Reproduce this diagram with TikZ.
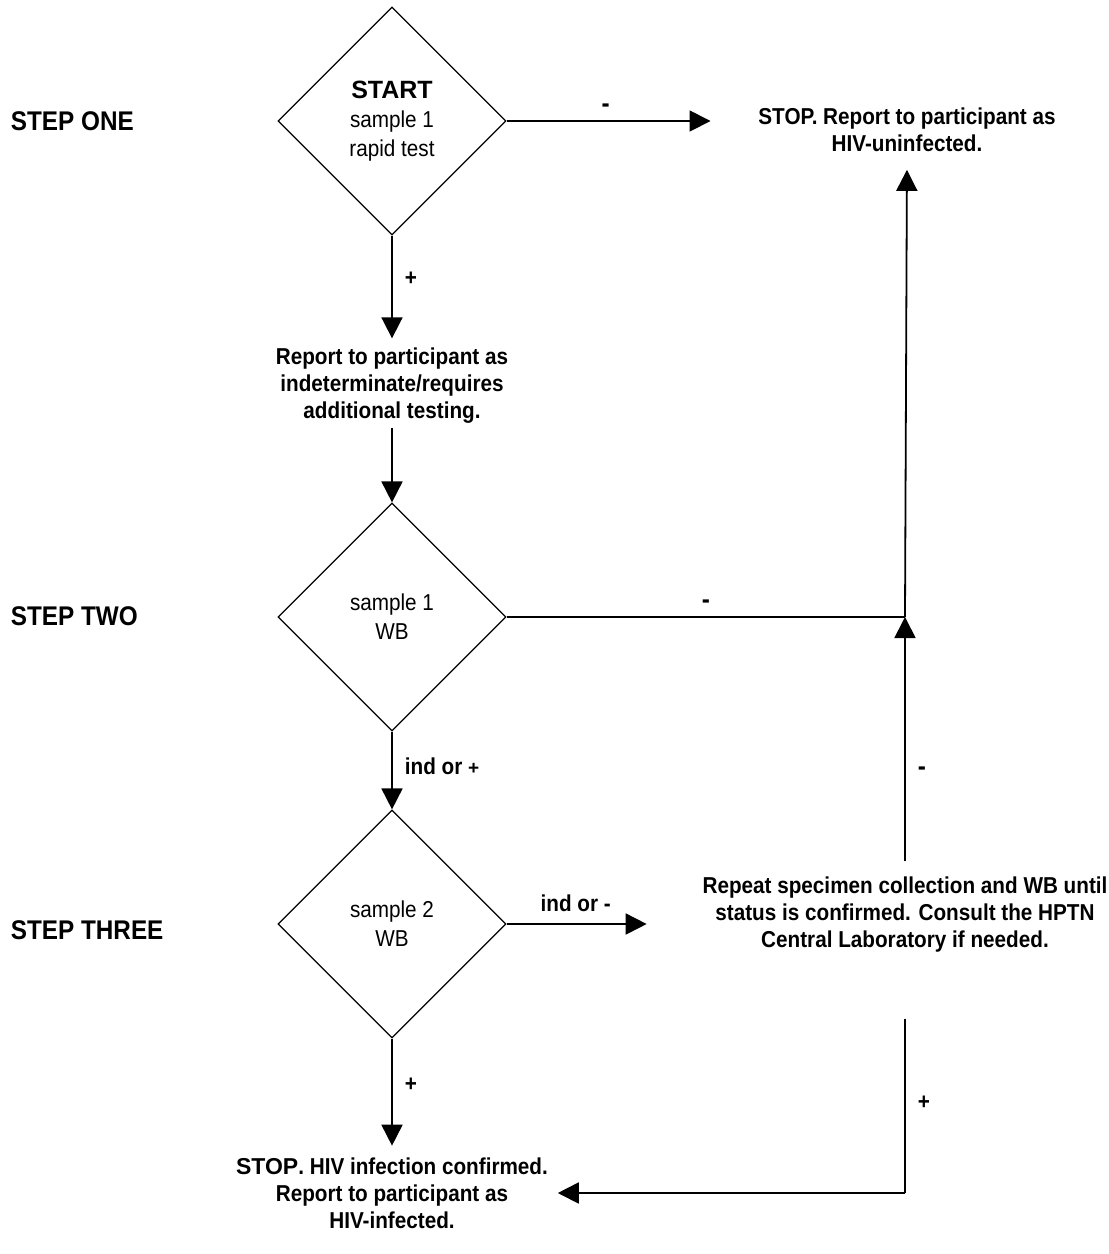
\documentclass[tikz,border=0pt]{standalone}
\usepackage{fontspec}
\setmainfont{Liberation Sans}
\newfontfamily\narrowfont[FakeStretch=0.9]{Liberation Sans}
\newcommand{\widebf}[1]{{\normalfont\bfseries #1}}
\usetikzlibrary{positioning,shapes.geometric,arrows.meta}

\begin{document}
\begin{tikzpicture}[x=1pt, y=-1pt, line width=1.8pt,
    test/.style = {draw, diamond, line width=1.2pt, minimum width=228pt, minimum height=228pt, inner sep=0pt, align=center, font=\narrowfont\fontsize{23}{29}\selectfont},
    msg/.style = {align=center, inner sep=3pt, font=\narrowfont\bfseries\fontsize{23}{27}\selectfont},
    steplbl/.style = {anchor=west, inner sep=0pt, font=\narrowfont\bfseries\fontsize{27}{30}\selectfont},
    lbl/.style = {inner sep=2pt, font=\narrowfont\bfseries\fontsize{23}{26}\selectfont},
    sgn/.style = {inner sep=2pt, font=\narrowfont\bfseries\fontsize{27}{28}\selectfont},
    arr/.style = {-{Triangle[length=21pt,width=21pt]}}
    ]
\useasboundingbox (0,0) rectangle (1109,1254);

\node[steplbl] (s1) at (10,121) {STEP ONE};
\node[steplbl] (s2) at (10,616) {STEP TWO};
\node[steplbl] (s3) at (10,930) {STEP THREE};

\node[test] (d1) at (392,121) {\widebf{\fontsize{25}{29}\selectfont START}\\sample 1\\rapid test};
\node[test] (d2) at (392,617) {sample 1\\WB};
\node[test] (d3) at (392,924) {sample 2\\WB};

\node[msg] (stopneg) at (907,130) {STOP. Report to participant as\\HIV-uninfected.};
\node[msg] (report) at (392,386) {Report to participant as\\indeterminate/requires\\additional testing.};
\node[msg] (repeat) at (905,915) {Repeat specimen collection and WB until\\status is confirmed. Consult the HPTN\\Central Laboratory if needed.};
\node[msg] (stoppos) at (392,1193) {\widebf{STOP}. HIV infection confirmed.\\Report to participant as\\HIV-infected.};

\coordinate (jn) at (repeat.north |- d2.east);

\draw[arr, shorten >=44pt] (d1.east) -- (d1.east -| stopneg.west) node[pos=0.4, above=6pt, sgn] {-};
\draw[arr, shorten >=6pt] (d1.south) -- (report.north) node[pos=0.4, right=10pt, lbl] {+};
\draw[arr] (report.south) -- (d2.north);
\draw (d2.east) -- (jn) node[midway, above=6pt, sgn] {-};
\draw[arr, shorten <=12pt] (repeat.north) -- (jn) node[pos=0.4, right=10pt, sgn] {-};
\draw[arr, shorten >=14pt] (jn) -- (stopneg.south);
\draw[arr] (d2.south) -- (d3.north) node[pos=0.45, right=10pt, lbl] {ind or \widebf{\fontsize{19}{20}\selectfont+}};
\draw[arr, shorten >=52pt] (d3.east) -- (d3.east -| repeat.west) node[pos=0.36, above=9pt, lbl] {ind or -};
\draw[arr, shorten >=8pt] (d3.south) -- (stoppos.north) node[pos=0.4, right=10pt, lbl] {+};
\draw[shorten <=62pt] (repeat.south) -- (repeat.south |- stoppos.east) node[pos=0.62, right=10pt, lbl] {+};
\draw[arr, shorten >=6pt] (repeat.south |- stoppos.east) -- (stoppos.east);

\end{tikzpicture}
\end{document}
